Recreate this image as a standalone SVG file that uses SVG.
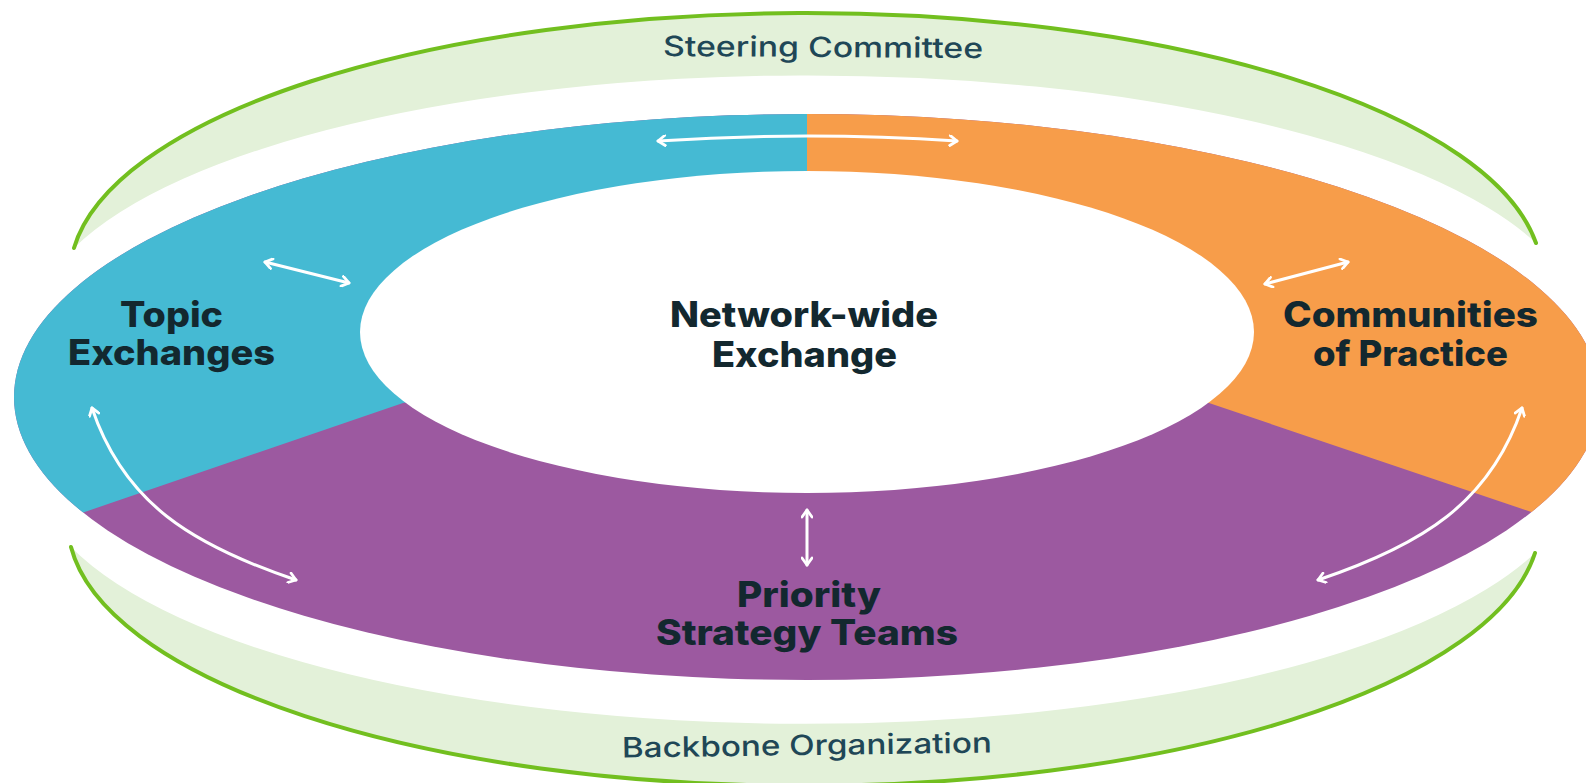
<svg xmlns="http://www.w3.org/2000/svg" width="1586" height="783" viewBox="0 0 1586 783">
<style>
.lbl{font-family:Inter,"Liberation Sans",sans-serif;font-weight:800;font-size:35px;fill:#13282f;text-anchor:middle}
.sub{font-family:Inter,"Liberation Sans",sans-serif;font-weight:500;font-size:28px;fill:#1f4757;text-anchor:middle}
.band{fill:#e3f1d9}
.rim{fill:none;stroke:#72bf1f;stroke-width:4;stroke-linecap:round}
.arr{fill:none;stroke:#ffffff;stroke-width:3;stroke-linecap:round;marker-start:url(#head);marker-end:url(#head)}
</style>
<defs>
<marker id="head" viewBox="0 0 12 12" refX="10" refY="6" markerWidth="12" markerHeight="12" markerUnits="userSpaceOnUse" orient="auto-start-reverse">
<path d="M3,1 L10,6 L3,11" fill="none" stroke="#ffffff" stroke-width="2.8" stroke-linecap="round" stroke-linejoin="round"/>
</marker>
<clipPath id="clipBlue"><polygon points="0,0 807,0 807,330 403,403 0,541"/></clipPath>
<clipPath id="clipOrange"><polygon points="1600,0 807,0 807,330 1209,403 1620,542"/></clipPath>
</defs>
<rect width="1586" height="783" fill="#ffffff"/>

<g id="node-steering">
<path class="band" d="M74,248 A736,263 0 0 1 1536,243 A773,252 0 0 0 74,248 Z"/>
<path class="rim" d="M74,248 A736,263 0 0 1 1536,243"/>
<text class="sub" x="823" y="57" textLength="320" lengthAdjust="spacingAndGlyphs" transform="rotate(0.36 823 57)">Steering Committee</text>
</g>

<g id="node-backbone">
<path class="band" d="M71,547 A736,263 0 0 0 1535,553 A773,256 0 0 1 71,547 Z"/>
<path class="rim" d="M71,547 A736,263 0 0 0 1535,553"/>
<text class="sub" x="807" y="755" textLength="370" lengthAdjust="spacingAndGlyphs" transform="rotate(-0.77 807 755)">Backbone Organization</text>
</g>

<g id="node-priority">
<ellipse cx="807" cy="397" rx="793" ry="283" fill="#9c59a0"/>
<text class="lbl" x="809" y="607" textLength="144" lengthAdjust="spacingAndGlyphs">Priority</text>
<text class="lbl" x="807" y="645" textLength="302" lengthAdjust="spacingAndGlyphs">Strategy Teams</text>
</g>

<g id="node-topic">
<ellipse cx="807" cy="397" rx="793" ry="283" fill="#45bad3" clip-path="url(#clipBlue)"/>
<text class="lbl" x="171.5" y="327" textLength="103" lengthAdjust="spacingAndGlyphs">Topic</text>
<text class="lbl" x="171.5" y="365" textLength="207" lengthAdjust="spacingAndGlyphs">Exchanges</text>
</g>

<g id="node-communities">
<ellipse cx="807" cy="397" rx="793" ry="283" fill="#f79d4a" clip-path="url(#clipOrange)"/>
<text class="lbl" x="1410.5" y="327" textLength="255" lengthAdjust="spacingAndGlyphs">Communities</text>
<text class="lbl" x="1410.5" y="366" textLength="195" lengthAdjust="spacingAndGlyphs">of Practice</text>
</g>

<g id="node-network">
<ellipse cx="807" cy="332" rx="447" ry="161" fill="#ffffff"/>
<text class="lbl" x="804" y="327" textLength="268" lengthAdjust="spacingAndGlyphs">Network-wide</text>
<text class="lbl" x="804.5" y="367" textLength="185" lengthAdjust="spacingAndGlyphs">Exchange</text>
</g>

<g id="connectors">
<path class="arr" d="M658,141 Q807,131 957,141"/>
<path class="arr" d="M265,262 L349,283"/>
<path class="arr" d="M1265,284 L1348,262"/>
<path class="arr" d="M92,408 C124,503 192,545 296,580"/>
<path class="arr" d="M1522,408 C1490,503 1422,545 1318,580"/>
<path class="arr" d="M807,510 L807,565"/>
</g>
</svg>
